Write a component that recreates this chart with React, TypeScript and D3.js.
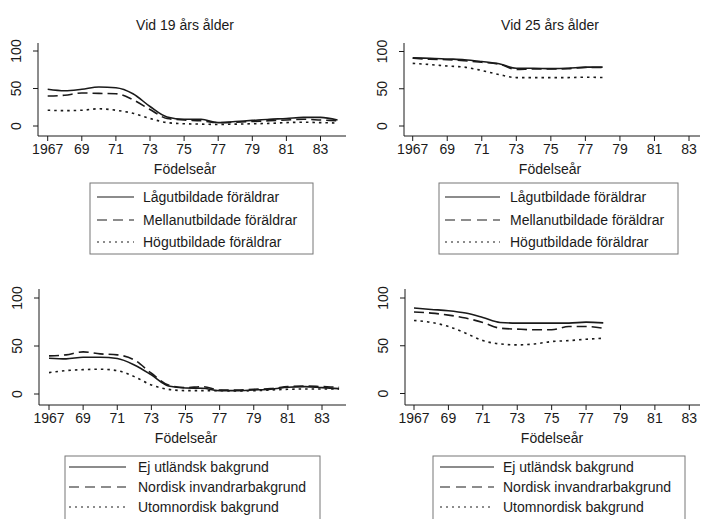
import React from 'react';
import * as d3 from 'd3';

// ---------- DATA ----------
const yearsLong = [1967, 1968, 1969, 1970, 1971, 1972, 1973, 1974, 1975, 1976, 1977, 1978, 1979, 1980, 1981, 1982, 1983, 1984];
const yearsShort = [1967, 1968, 1969, 1970, 1971, 1972, 1973, 1974, 1975, 1976, 1977, 1978];

const xTickValues = [1967, 1969, 1971, 1973, 1975, 1977, 1979, 1981, 1983];
const xTickLabels = ['1967', '69', '71', '73', '75', '77', '79', '81', '83'];
const yTickValues = [0, 50, 100];
const yTickLabels = ['0', '50', '100'];

const panelTitles = ['Vid 19 års ålder', 'Vid 25 års ålder'];
const xAxisTitle = 'Födelseår';
const eduLabels = ['Lågutbildade föräldrar', 'Mellanutbildade föräldrar', 'Högutbildade föräldrar'];
const bgLabels = ['Ej utländsk bakgrund', 'Nordisk invandrarbakgrund', 'Utomnordisk bakgrund'];

// Age 19, by parents' education
const edu19Low = [49, 47, 49, 52, 51, 43, 26, 12, 9, 9, 4.5, 6, 7.5, 9, 10, 11.5, 11.5, 8];
const edu19Mid = [40, 41, 44, 43.5, 43, 35, 22, 10, 8, 7, 4.5, 5, 6, 7, 8, 9, 8, 7];
const edu19High = [21, 20.5, 21, 23, 21, 17, 10, 4.5, 3, 2.5, 2, 2.5, 3, 3.5, 4.5, 5, 4.5, 4];

// Age 25, by parents' education
const edu25Low = [91.5, 91, 90, 89, 86.5, 83.5, 77.5, 77.5, 77, 77.5, 79, 79];
const edu25Mid = [91, 89.5, 89, 87.5, 85.5, 83, 76, 76.5, 76.5, 77, 78.5, 78.5];
const edu25High = [84, 82.5, 80.5, 79, 74.5, 69, 65, 65, 65, 65, 65.5, 65];

// Age 19, by background
const bg19Native = [37.3, 36.6, 38.3, 38.3, 37, 30.3, 19.9, 8.4, 6.3, 6, 3.5, 3.5, 4.2, 5, 7, 7.7, 6.6, 5.6];
const bg19Nordic = [39.7, 40.8, 43.9, 41.8, 40.8, 35.5, 21.6, 9.4, 6.6, 7.7, 4.2, 4.2, 5, 5.6, 7.7, 8.4, 7.7, 7];
const bg19Other = [22.3, 24.4, 25.4, 25.8, 24.4, 18.1, 9.4, 4.9, 3.5, 3.5, 3.5, 3.1, 3.5, 4.2, 4.9, 5.2, 5.2, 5.2];

// Age 25, by background
const bg25Native = [89.5, 88, 86.7, 84.2, 79.6, 74.4, 73.7, 73.7, 73.7, 73.7, 74.7, 74];
const bg25Nordic = [85.3, 84.2, 82.1, 79, 74.4, 68.4, 67.4, 66.7, 66.7, 70.2, 70.2, 68.4];
const bg25Other = [76.5, 74.4, 70.2, 63.2, 55.4, 51.9, 50.9, 51.9, 54.4, 55.4, 56.8, 57.9];

// ---------- STYLE ----------
const FONT = "'Liberation Sans', Arial, sans-serif";
const INK = '#1a1a1a';
const plotDash = [null, '10,5', '2.5,4'];
const legendDash = [null, '10,6', '2,4'];

type Layout = {
  axisX: number; x0: number; x1: number; xEnd: number;
  y0: number; y100: number; axisY: number; axisTop: number;
  tickLabelY: number; titleY: number; xTitleY: number; centerX: number;
  legend: { x: number; y: number; w: number; h: number; s1: number; s2: number; tx: number; rows: number[] };
};

const layouts: Layout[] = [
  {
    axisX: 38, x0: 47.7, x1: 320.5, xEnd: 346, y0: 126, y100: 51, axisY: 136, axisTop: 43,
    tickLabelY: 154, titleY: 30, xTitleY: 174, centerX: 185,
    legend: { x: 90, y: 183, w: 223, h: 71, s1: 97, s2: 134, tx: 143, rows: [197, 220, 242] },
  },
  {
    axisX: 404, x0: 412.7, x1: 689, xEnd: 700, y0: 126, y100: 51.5, axisY: 136, axisTop: 43,
    tickLabelY: 154, titleY: 30, xTitleY: 174, centerX: 550,
    legend: { x: 439, y: 183, w: 239, h: 71, s1: 445, s2: 500, tx: 510, rows: [197, 220, 242] },
  },
  {
    axisX: 39, x0: 49, x1: 322, xEnd: 346, y0: 394, y100: 298, axisY: 405, axisTop: 289,
    tickLabelY: 423, titleY: 0, xTitleY: 443, centerX: 186,
    legend: { x: 65, y: 456, w: 255, h: 80, s1: 69, s2: 126, tx: 138, rows: [467, 487, 507] },
  },
  {
    axisX: 405, x0: 414, x1: 689.3, xEnd: 700, y0: 393.5, y100: 298, axisY: 405, axisTop: 289,
    tickLabelY: 423, titleY: 0, xTitleY: 443, centerX: 552,
    legend: { x: 433, y: 456, w: 252, h: 80, s1: 440, s2: 494, tx: 503, rows: [467, 487, 507] },
  },
];

const panels = [
  { title: panelTitles[0], years: yearsLong, series: [edu19Low, edu19Mid, edu19High], labels: eduLabels },
  { title: panelTitles[1], years: yearsShort, series: [edu25Low, edu25Mid, edu25High], labels: eduLabels },
  { title: null, years: yearsLong, series: [bg19Native, bg19Nordic, bg19Other], labels: bgLabels },
  { title: null, years: yearsShort, series: [bg25Native, bg25Nordic, bg25Other], labels: bgLabels },
];

function Panel({ p, L }: { p: typeof panels[number]; L: Layout }) {
  const x = d3.scaleLinear().domain([1967, 1983]).range([L.x0, L.x1]);
  const y = d3.scaleLinear().domain([0, 100]).range([L.y0, L.y100]);
  const line = d3.line<[number, number]>()
    .x(d => x(d[0]))
    .y(d => y(d[1]))
    .curve(d3.curveMonotoneX);

  return (
    <g>
      {p.title && (
        <text x={L.centerX} y={L.titleY} textAnchor="middle" fontSize={14} fontFamily={FONT} fill={INK}>{p.title}</text>
      )}
      {/* y axis */}
      <line x1={L.axisX} x2={L.axisX} y1={L.axisTop} y2={L.axisY} stroke={INK} strokeWidth={1} />
      {yTickValues.map((v, i) => (
        <g key={'y' + v}>
          <line x1={L.axisX - 5} x2={L.axisX} y1={y(v)} y2={y(v)} stroke={INK} strokeWidth={1} />
          <text transform={`translate(${L.axisX - 17},${y(v)}) rotate(-90)`} textAnchor="middle" fontSize={14} fontFamily={FONT} fill={INK}>{yTickLabels[i]}</text>
        </g>
      ))}
      {/* x axis */}
      <line x1={L.axisX} x2={L.xEnd} y1={L.axisY} y2={L.axisY} stroke={INK} strokeWidth={1} />
      {xTickValues.map((v, i) => (
        <g key={'x' + v}>
          <line x1={x(v)} x2={x(v)} y1={L.axisY} y2={L.axisY + 5} stroke={INK} strokeWidth={1} />
          <text x={x(v)} y={L.tickLabelY} textAnchor="middle" fontSize={14} fontFamily={FONT} fill={INK}>{xTickLabels[i]}</text>
        </g>
      ))}
      <text x={L.centerX} y={L.xTitleY} textAnchor="middle" fontSize={14} fontFamily={FONT} fill={INK}>{xAxisTitle}</text>
      {/* series */}
      {p.series.map((s, k) => (
        <path key={'s' + k}
          d={line(p.years.map((yr, i) => [yr, s[i]] as [number, number])) || ''}
          fill="none" stroke={INK} strokeWidth={1.6}
          strokeDasharray={plotDash[k] || undefined} />
      ))}
      {/* legend */}
      <rect x={L.legend.x} y={L.legend.y} width={L.legend.w} height={L.legend.h} fill="white" stroke="#777" strokeWidth={1} />
      {p.labels.map((lab, k) => (
        <g key={'l' + k}>
          <line x1={L.legend.s1} x2={L.legend.s2} y1={L.legend.rows[k]} y2={L.legend.rows[k]} stroke={INK} strokeWidth={1.2}
            strokeDasharray={legendDash[k] || undefined} />
          <text x={L.legend.tx} y={L.legend.rows[k] + 5} fontSize={14} fontFamily={FONT} fill={INK}>{lab}</text>
        </g>
      ))}
    </g>
  );
}

export default function App() {
  return (
    <svg width={703} height={519} style={{ position: 'absolute', left: 0, top: 0, background: 'white' }}>
      <rect x={0} y={0} width={703} height={519} fill="white" />
      {panels.map((p, i) => <Panel key={i} p={p} L={layouts[i]} />)}
    </svg>
  );
}
